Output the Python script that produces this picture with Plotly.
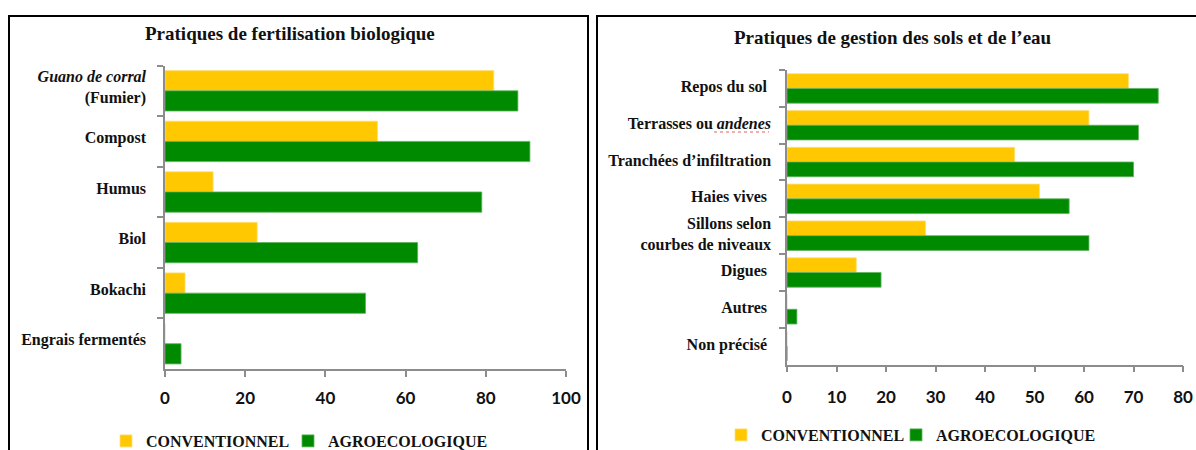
import plotly.graph_objects as go

# Left panel: organic fertilisation practices (%)
fert_categories = [
    "<i>Guano de corral</i><br>(Fumier)",
    "Compost",
    "Humus",
    "Biol",
    "Bokachi",
    "Engrais fermentés",
]
fert_conventionnel = [82, 53, 12, 23, 5, 0]
fert_agroecologique = [88, 91, 79, 63, 50, 4]

# Right panel: soil and water management practices (%)
sol_categories = [
    "Repos du sol\u00a0",
    "Terrasses ou <i>andenes</i>",
    "Tranchées d’infiltration",
    "Haies vives\u00a0",
    "Sillons selon<br>courbes de niveaux",
    "Digues\u00a0",
    "Autres\u00a0",
    "Non précisé\u00a0",
]
sol_conventionnel = [69, 61, 46, 51, 28, 14, 0, 0]
sol_agroecologique = [75, 71, 70, 57, 61, 19, 2, 0]

left_ticks = [0, 20, 40, 60, 80, 100]
right_ticks = [0, 10, 20, 30, 40, 50, 60, 70, 80]

YELLOW = "#FFC800"
GREEN = "#008A00"
W, H = 1196, 450
SERIF = "'Liberation Serif', 'Times New Roman', Times, serif"
SANS = "Lato, 'Open Sans', sans-serif"
AXIS_GREY = "#8C8C8C"


def px(x):
    return x / W


def py(y):
    return (H - y) / H


fig = go.Figure()

fig.add_trace(go.Bar(
    y=fert_categories, x=fert_conventionnel, orientation="h", name="CONVENTIONNEL",
    marker=dict(color=YELLOW, line=dict(color="#FFE07A", width=0.8)),
    xaxis="x", yaxis="y", legend="legend", showlegend=True,
))
fig.add_trace(go.Bar(
    y=fert_categories, x=fert_agroecologique, orientation="h", name="AGROECOLOGIQUE",
    marker=dict(color=GREEN, line=dict(color="#5DB35D", width=0.8)),
    xaxis="x", yaxis="y", legend="legend2", showlegend=True,
))
fig.add_trace(go.Bar(
    y=sol_categories, x=sol_conventionnel, orientation="h", name="CONVENTIONNEL",
    marker=dict(color=YELLOW, line=dict(color="#FFE07A", width=0.8)),
    xaxis="x2", yaxis="y2", legend="legend3", showlegend=True,
))
fig.add_trace(go.Bar(
    y=sol_categories, x=sol_agroecologique, orientation="h", name="AGROECOLOGIQUE",
    marker=dict(color=GREEN, line=dict(color="#5DB35D", width=0.8)),
    xaxis="x2", yaxis="y2", legend="legend4", showlegend=True,
))

xaxis_common = dict(
    showgrid=False, zeroline=False, showline=True, linecolor=AXIS_GREY, linewidth=1.5,
    ticks="outside", ticklen=6, tickwidth=1.5, tickcolor=AXIS_GREY,
    tickfont=dict(family=SANS, size=17, color="#111111", weight="bold"),
    fixedrange=True, automargin=False,
)
yaxis_common = dict(
    showgrid=False, zeroline=False, showline=True, linecolor=AXIS_GREY, linewidth=1.5,
    ticks="outside", ticklen=6, tickwidth=1.5, tickcolor=AXIS_GREY, tickson="boundaries",
    tickfont=dict(family=SERIF, size=16, color="#111111", weight="bold"),
    autorange="reversed", fixedrange=True, automargin=False,
)


def legend_at(x_px, y_px):
    return dict(
        orientation="h", x=px(x_px), y=py(y_px), xanchor="left", yanchor="middle",
        font=dict(family=SERIF, size=16, color="#111111", weight="bold"),
        bgcolor="rgba(0,0,0,0)", visible=True,
    )


fig.update_layout(
    width=W, height=H,
    showlegend=True,
    margin=dict(l=0, r=0, t=0, b=0, autoexpand=False),
    paper_bgcolor="white", plot_bgcolor="white",
    barmode="group", bargap=0.2, bargroupgap=0,
    xaxis=dict(xaxis_common, domain=[px(165), px(566)], range=[0, 100],
               tickvals=left_ticks, anchor="y", ticklabelstandoff=7),
    yaxis=dict(yaxis_common, domain=[py(369), py(65.5)], anchor="x",
               categoryorder="array", categoryarray=fert_categories,
               ticklabelstandoff=14, ticklabelshift=4),
    xaxis2=dict(xaxis_common, domain=[px(787), px(1183)], range=[0, 80],
                tickvals=right_ticks, anchor="y2", ticklabelstandoff=10),
    yaxis2=dict(yaxis_common, domain=[py(364.5), py(70)], anchor="x2",
                categoryorder="array", categoryarray=sol_categories,
                ticklabelstandoff=11, ticklabelshift=2),
    legend=legend_at(106, 441),
    legend2=legend_at(288, 441),
    legend3=legend_at(721, 435),
    legend4=legend_at(896, 435),
    annotations=[
        dict(text="Pratiques de fertilisation biologique", x=px(290), y=py(33),
             xref="paper", yref="paper", xanchor="center", yanchor="middle",
             showarrow=False,
             font=dict(family=SERIF, size=19, color="#111111", weight="bold")),
        dict(text="Pratiques de gestion des sols et de l’eau", x=px(893), y=py(38),
             xref="paper", yref="paper", xanchor="center", yanchor="middle",
             showarrow=False,
             font=dict(family=SERIF, size=19, color="#111111", weight="bold")),
    ],
    shapes=[
        # panel frames
        dict(type="rect", xref="paper", yref="paper",
             x0=px(9), x1=px(588), y0=-0.2, y1=py(16),
             line=dict(color="black", width=2), fillcolor="rgba(0,0,0,0)", layer="above"),
        dict(type="rect", xref="paper", yref="paper",
             x0=px(597), x1=1.2, y0=-0.2, y1=py(16),
             line=dict(color="black", width=2), fillcolor="rgba(0,0,0,0)", layer="above"),
        # spell-check style underline under "andenes"
        dict(type="line", xref="paper", yref="paper",
             x0=px(714), x1=px(769), y0=py(132), y1=py(132),
             line=dict(color="#E06060", width=1, dash="dot")),
    ],
)

fig.write_html("out.html")
